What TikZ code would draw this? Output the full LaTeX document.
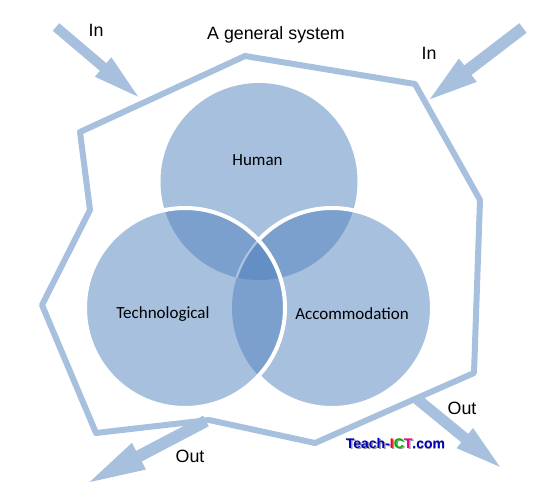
\documentclass[tikz,border=0pt]{standalone}
\usepackage{fontspec}
\setmainfont{Liberation Sans}
\newfontfamily\calfont{Carlito}
\usetikzlibrary{arrows.meta}
\definecolor{base}{HTML}{A7C0DE}
\definecolor{twofold}{HTML}{7BA0CE}
\definecolor{threefold}{HTML}{648FC4}
\tikzset{
  arial/.style={font=\fontsize{17.8}{20}\selectfont,text=black,inner sep=0pt},
  venn/.style={font=\calfont\fontsize{17}{20}\selectfont,text=black,inner sep=0pt},
  flow/.style={base,line width=#1},
  boundary/.style={base,line width=6pt,line join=round},
}
\begin{document}
\begin{tikzpicture}[x=1pt,y=-1pt]
\useasboundingbox (0,0) rectangle (550,500);
\coordinate (H) at (259,181.5);
\coordinate (T) at (185,308);
\coordinate (A) at (332,308);
\def\radH{98.5}
\def\rad{100}
\coordinate (p1) at (80,132);
\coordinate (p2) at (245,56);
\coordinate (p3) at (415,84);
\coordinate (p4) at (480,200);
\coordinate (p5) at (474,373);
\coordinate (p6) at (315,443);
\coordinate (p7) at (209,420);
\coordinate (p8) at (96,433);
\coordinate (p9) at (42,305);
\coordinate (p10) at (90,210);
\draw[boundary] (p1)--(p2)--(p3)--(p4)--(p5)--(p6)--(p7)--(p8)--(p9)--(p10)--cycle;
% arrows
\coordinate (a1s) at (56,27); \coordinate (a1e) at (142,100);
\coordinate (a2s) at (523,28); \coordinate (a2e) at (425,103);
\coordinate (a3s) at (417,399); \coordinate (a3e) at (505,471);
\coordinate (a4s) at (206,421); \coordinate (a4e) at (84,485);
\draw[flow=10pt,-{Triangle[length=51pt,width=22pt]}] (a1s)--(a1e);
\draw[flow=12pt,-{Triangle[length=54pt,width=25pt]}] (a2s)--(a2e);
\draw[flow=11pt,-{Triangle[length=52pt,width=22pt]}] (a3s)--(a3e);
\draw[flow=12pt,-{Triangle[length=62pt,width=26pt]}] (a4s)--(a4e);
% circles
\fill[base] (H) circle (\radH);
\fill[base] (T) circle (\rad);
\fill[base] (A) circle (\rad);
\begin{scope}\clip (H) circle (\radH); \fill[twofold] (T) circle (\rad); \fill[twofold] (A) circle (\rad);\end{scope}
\begin{scope}\clip (T) circle (\rad); \fill[twofold] (A) circle (\rad);\end{scope}
\begin{scope}\clip (H) circle (\radH); \clip (T) circle (\rad); \fill[threefold] (A) circle (\rad);\end{scope}
% white rims
\begin{scope}[even odd rule]
 \clip (0,0) rectangle (550,500) (T) circle (\rad);
 \draw[white,line width=4pt] (A) circle (\rad);
\end{scope}
\begin{scope}
 \clip (T) circle (\rad);\clip (H) circle (\radH);
 \draw[white,opacity=.45,line width=2pt] (A) circle (\rad);
\end{scope}
\draw[white,line width=4pt] (T) circle (\rad);
% labels
\node[venn] (human) at (257.5,160.5) {Human};
\node[venn] (tech) at (163,314) {Technological};
\node[venn] (acc) at (352,314) {Accommodation};
\node[arial] (l1) at (96,30) {In};
\node[arial] (l2) at (429,53) {In};
\node[arial] (l3) at (462,408) {Out};
\node[arial] (l4) at (190,456) {Out};
\node[arial] (title) at (276,35) {A general system};
\node[inner sep=0pt,font=\fontsize{14}{16}\selectfont\bfseries] (logo) at (395.5,444) {\rlap{\kern1.5pt\raisebox{-1.5pt}{\color{gray!80}Teach-ICT.com}}\textcolor{blue!75!black}{Teach-}\textcolor{red}{I}\textcolor{green!70!black}{C}\textcolor{magenta}{T}\textcolor{blue!75!black}{.com}};
\end{tikzpicture}
\end{document}
